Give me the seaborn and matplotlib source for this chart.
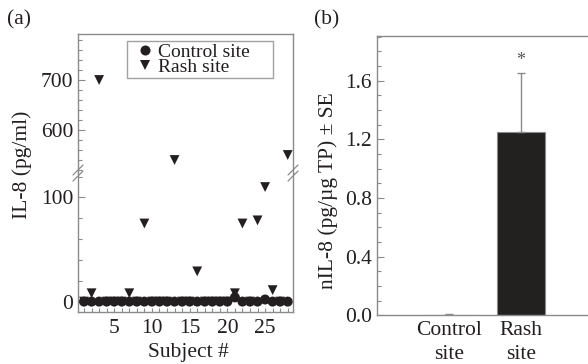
import numpy as np
import pandas as pd
import matplotlib
matplotlib.use("Agg")
import matplotlib.pyplot as plt
from matplotlib.ticker import MultipleLocator, FixedLocator
from matplotlib.lines import Line2D
import seaborn as sns

# ---- data -------------------------------------------------------------
subjects = list(range(1, 29))
control_il8 = [0, 0, 0, 0, 0, 0, 0, 0, 0, 0, 0, 0, 0, 0,
               0, 0, 0, 0, 0, 0, 4, 0, 0, 0, 2, 0, 0, 0]
rash_il8 = [0, 8, 700, 0, 0, 0, 8, 0, 75, 0, 0, 0, 540, 0,
            0, 29, 0, 0, 0, 0, 8, 75, 0, 78, 110, 11, 0, 550]

site_labels = ["Control site", "Rash site"]
bar_categories = ["Control\nsite", "Rash\nsite"]
bar_means = [0.005, 1.25]
bar_se = [0.003, 0.405]

# ---- style ------------------------------------------------------------
sns.set_style("ticks")
plt.rcParams["font.family"] = ["Liberation Serif", "DejaVu Serif"]
FS = 15.5
plt.rcParams["font.size"] = FS
TXT = "#231f20"
GRAY = "#8a8a8a"
plt.rcParams["text.color"] = TXT
plt.rcParams["xtick.color"] = GRAY
plt.rcParams["ytick.color"] = GRAY
plt.rcParams["xtick.labelcolor"] = TXT
plt.rcParams["ytick.labelcolor"] = TXT

W, H = 588, 364
fig = plt.figure(figsize=(W / 100, H / 100), dpi=100)


def px_axes(x0, y0, x1, y1):
    return fig.add_axes([x0 / W, 1 - y1 / H, (x1 - x0) / W, (y1 - y0) / H])


df = pd.DataFrame({
    "Subject": subjects * 2,
    "IL8": rash_il8 + control_il8,
    "Site": ["Rash site"] * len(subjects) + ["Control site"] * len(subjects),
})

# ---- panel (a): broken y axis -----------------------------------------
ax_top = px_axes(78, 34, 293, 173)
ax_bot = px_axes(78, 173, 293, 312)

for ax in (ax_top, ax_bot):
    sns.scatterplot(data=df, x="Subject", y="IL8", style="Site",
                    style_order=site_labels,
                    markers={"Control site": "o", "Rash site": "v"},
                    size="Site", sizes={"Control site": 52, "Rash site": 50},
                    size_order=site_labels,
                    color=TXT, edgecolor="none", linewidth=0,
                    ax=ax, legend=(ax is ax_top), zorder=3)
    ax.set_xlim(0.2, 28.7)
    ax.set_xlabel("")
    ax.set_ylabel("")
    for s in ax.spines.values():
        s.set_color(GRAY)
        s.set_linewidth(1.0)
    ax.tick_params(which="both", direction="in", colors=GRAY,
                   labelcolor=TXT, width=0.8, labelsize=FS)
    ax.tick_params(which="major", length=5, pad=3.5)
    ax.tick_params(which="minor", length=3)

ax_top.set_ylim(514, 792)
ax_top.yaxis.set_major_locator(FixedLocator([600, 700]))
ax_top.yaxis.set_minor_locator(FixedLocator(np.arange(520, 792, 20)))
ax_top.spines["bottom"].set_visible(False)
ax_top.tick_params(axis="x", which="both", bottom=False, labelbottom=False)

ax_bot.set_ylim(-10, 123.5)
ax_bot.yaxis.set_major_locator(FixedLocator([0, 100]))
ax_bot.yaxis.set_minor_locator(FixedLocator([20, 40, 60, 80, 120]))
ax_bot.spines["top"].set_visible(False)
ax_bot.xaxis.set_major_locator(FixedLocator([5, 10, 15, 20, 25]))
ax_bot.xaxis.set_minor_locator(MultipleLocator(1))
ax_bot.tick_params(axis="x", which="both", length=3, pad=5)

# legend box spanning a fixed width near the top of the upper axes
leg = ax_top.legend(loc="upper left",
                    bbox_to_anchor=(49 / 215, 1 - 7 / 139, 146 / 215, 0.0),
                    mode="expand",
                    frameon=True, fancybox=False, edgecolor=GRAY,
                    fontsize=14, handletextpad=-0.1, borderpad=0.1,
                    labelspacing=-0.1, handlelength=1.6, borderaxespad=0)
leg.get_frame().set_linewidth(1.0)
for h in leg.legend_handles:
    h.set_color(TXT)

# break marks on both vertical spines
for xc in (78, 293):
    for dy in (-3, 3):
        yc = 173 + dy
        fig.add_artist(Line2D([(xc - 5) / W, (xc + 5) / W],
                              [1 - (yc + 5) / H, 1 - (yc - 5) / H],
                              color=GRAY, lw=0.9, transform=fig.transFigure))

fig.text(22 / W, 1 - 165 / H, "IL-8 (pg/ml)", rotation=90,
         ha="center", va="center", fontsize=FS)
fig.text(188 / W, 1 - 353 / H, "Subject #", ha="center", va="center",
         fontsize=FS)
fig.text(7 / W, 1 - 20 / H, "(a)", ha="left", va="center", fontsize=FS)

# ---- panel (b): bar chart ---------------------------------------------
axb = px_axes(376.7, 36, 593, 315.3)
bdf = pd.DataFrame({"Site": bar_categories, "Mean": bar_means})
sns.barplot(data=bdf, x="Site", y="Mean", ax=axb, width=0.67,
            palette=["#ffffff", TXT], hue="Site", legend=False,
            edgecolor=[GRAY, TXT], linewidth=0.8, errorbar=None)
axb.errorbar([0, 1], bar_means, yerr=[[0, 0], bar_se], fmt="none",
             ecolor=GRAY, elinewidth=1.0, capsize=3, capthick=1.0, zorder=1)
axb.text(1, 1.74, "*", ha="center", va="center", fontsize=13, color="#555555")
axb.set_xlim(-1, 2)
axb.set_ylim(0, 1.905)
axb.set_xlabel("")
axb.set_ylabel("")
axb.yaxis.set_major_locator(FixedLocator([0, 0.4, 0.8, 1.2, 1.6]))
axb.yaxis.set_minor_locator(MultipleLocator(0.1))
axb.set_yticklabels(["0.0", "0.4", "0.8", "1.2", "1.6"])
for s in axb.spines.values():
    s.set_color(GRAY)
    s.set_linewidth(1.0)
axb.tick_params(which="both", direction="in", colors=GRAY, labelcolor=TXT,
                width=0.8, labelsize=FS)
axb.tick_params(axis="y", which="major", length=5, pad=3.5)
axb.tick_params(axis="y", which="minor", length=3)
axb.tick_params(axis="x", which="both", length=0, pad=4)
for lab in axb.get_xticklabels():
    lab.set_linespacing(1.4)

fig.text(328 / W, 1 - 191 / H, "nIL-8 (pg/\u00b5g TP) \u00b1 SE", rotation=90,
         ha="center", va="center", fontsize=FS)
fig.text(314 / W, 1 - 20 / H, "(b)", ha="left", va="center", fontsize=FS)

fig.savefig("out.png", dpi=100)
